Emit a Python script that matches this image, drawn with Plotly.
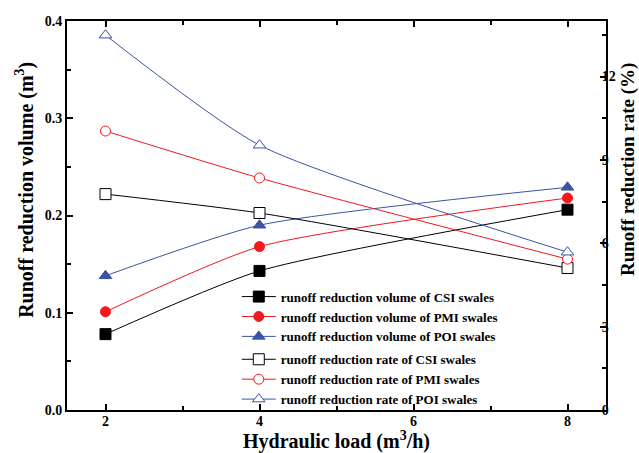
import plotly.graph_objects as go

x_load = [2, 4, 8]

vol_csi = [0.078, 0.143, 0.206]
vol_pmi = [0.101, 0.168, 0.218]
vol_poi = [0.138, 0.190, 0.229]

rate_csi = [7.77, 7.09, 5.11]
rate_pmi = [10.04, 8.35, 5.43]
rate_poi = [13.49, 9.53, 5.68]

BLACK = "#000000"
RED = "#f0191e"
BLUE = "#3a53a4"
FONT = "Liberation Serif"

fig = go.Figure()

def add(y, name, color, symbol, filled, axis, group):
    fig.add_trace(go.Scatter(
        x=x_load, y=y, name="<b>" + name + "</b>", mode="lines+markers",
        line=dict(color=color, width=1, shape="spline", smoothing=0.6),
        marker=dict(symbol=symbol, size=10 if "circle" in symbol else 11,
                    color=color if filled else "white",
                    line=dict(color=color, width=1)),
        yaxis=axis, legendgroup=group,
    ))

add(vol_csi, "runoff reduction volume of CSI swales", BLACK, "square", True, "y", "v")
add(vol_pmi, "runoff reduction volume of PMI swales", RED, "circle", True, "y", "v")
add(vol_poi, "runoff reduction volume of POI swales", BLUE, "triangle-up", True, "y", "v")
add(rate_csi, "runoff reduction rate of CSI swales", BLACK, "square", False, "y2", "r")
add(rate_pmi, "runoff reduction rate of PMI swales", RED, "circle", False, "y2", "r")
add(rate_poi, "runoff reduction rate of POI swales", BLUE, "triangle-up", False, "y2", "r")

axis_common = dict(showline=True, linecolor="black", linewidth=2, ticks="inside",
                   ticklen=6, tickwidth=2, tickcolor="black", showgrid=False,
                   zeroline=False, automargin=False,
                   tickfont=dict(family=FONT, size=14, color="black"))

fig.update_layout(
    width=639, height=453,
    margin=dict(l=67, r=33, t=21, b=43),
    paper_bgcolor="white", plot_bgcolor="white",
    font=dict(family=FONT, color="black"),
    showlegend=True,
    legend=dict(x=0.315, y=0.33, xanchor="left", yanchor="top",
                bgcolor="rgba(0,0,0,0)", font=dict(family=FONT, size=13, color="black"),
                tracegroupgap=3, itemwidth=34),
    xaxis=dict(range=[1.5, 8.5], tickvals=[2, 4, 6, 8], ticktext=["<b>2</b>", "<b>4</b>", "<b>6</b>", "<b>8</b>"],
               minor=dict(tickvals=[3, 5, 7], ticks="inside", ticklen=4, tickwidth=2, tickcolor="black"),
               mirror="ticks", ticklabelstandoff=-3,
               title=dict(text="<b>Hydraulic load (m<sup>3</sup>/h)</b>", font=dict(family=FONT, size=20), standoff=2),
               **axis_common),
    yaxis=dict(range=[0, 0.4], tickvals=[0, 0.1, 0.2, 0.3, 0.4],
               ticktext=["<b>0.0</b>", "<b>0.1</b>", "<b>0.2</b>", "<b>0.3</b>", "<b>0.4</b>"],
               minor=dict(tickvals=[0.05, 0.15, 0.25, 0.35], ticks="inside", ticklen=4, tickwidth=2, tickcolor="black"),
               **axis_common),
    yaxis2=dict(range=[0, 14], overlaying="y", side="right", tickvals=[0, 3, 6, 9, 12],
                ticktext=["<b>0</b>", "<b>3</b>", "<b>6</b>", "<b>9</b>", "<b>12</b>"],
                minor=dict(tickvals=[1.5, 4.5, 7.5, 10.5, 13.5], ticks="inside", ticklen=4, tickwidth=2, tickcolor="black"),
                ticklabelstandoff=-9,
                **axis_common),
    annotations=[
        dict(text="<b>Runoff reduction volume (m<sup>3</sup>)</b>", textangle=-90,
             xref="paper", yref="paper", x=0, y=0.566, xanchor="center", yanchor="middle",
             xshift=-42, showarrow=False, font=dict(family=FONT, size=20, color="black")),
        dict(text="<b>Runoff reduction rate (%)</b>", textangle=-90,
             xref="paper", yref="paper", x=1, y=0.617, xanchor="center", yanchor="middle",
             xshift=22, showarrow=False, font=dict(family=FONT, size=19, color="black")),
    ],
)

fig.write_html("out.html", config={"displayModeBar": False},
               post_script="document.body.style.margin='0';")
